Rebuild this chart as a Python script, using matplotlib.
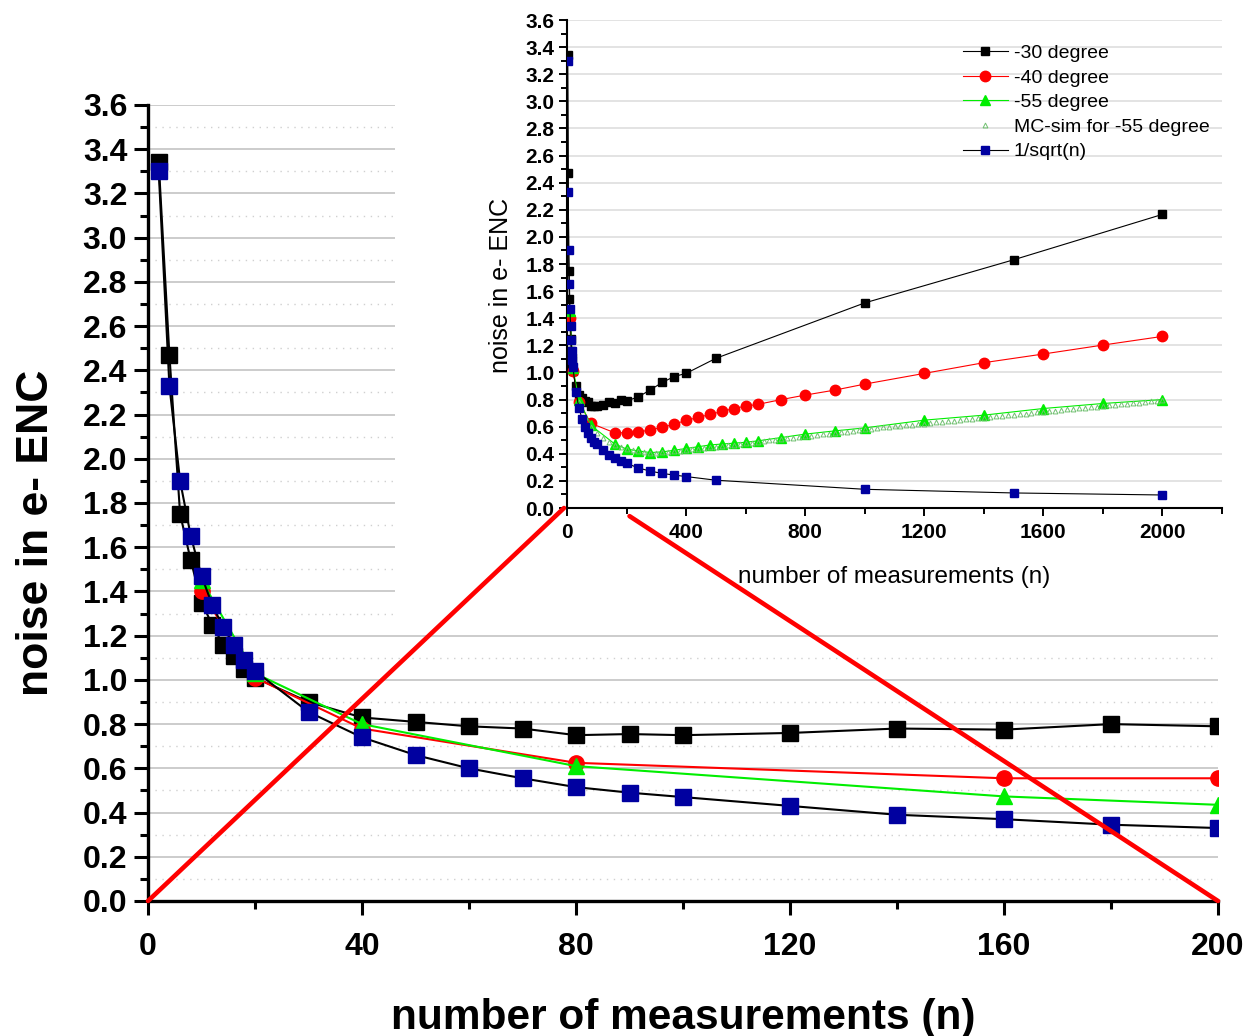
import numpy as np
import matplotlib
matplotlib.use('Agg')
import matplotlib.pyplot as plt
from matplotlib.patches import Rectangle, ConnectionPatch
from matplotlib.ticker import MultipleLocator, FormatStrFormatter

plt.rcParams['font.family'] = ['Liberation Sans', 'DejaVu Sans']

# -30 degree
x_30 = [2, 4, 6, 8, 10, 12, 14, 16, 18, 20, 30, 40, 50, 60, 70, 80, 90, 100, 120, 140, 160, 180, 200,
        240, 280, 320, 360, 400, 500, 1000, 1500, 2000]
y_30 = [3.34, 2.47, 1.75, 1.54, 1.35, 1.25, 1.16, 1.11, 1.05, 1.01, 0.90, 0.83, 0.81, 0.79, 0.78, 0.75, 0.755, 0.75,
        0.76, 0.78, 0.775, 0.80, 0.79, 0.82, 0.872, 0.926, 0.97, 0.993, 1.104, 1.513, 1.831, 2.166]

# -40 degree
x_40 = [10, 20, 40, 80, 160, 200, 240, 280, 320, 360, 400, 440, 480, 520, 560, 600, 640, 720, 800, 900,
        1000, 1200, 1400, 1600, 1800, 2000]
y_40 = [1.40, 1.01, 0.78, 0.625, 0.555, 0.555, 0.56, 0.577, 0.594, 0.619, 0.646, 0.668, 0.69, 0.712, 0.734, 0.752,
        0.764, 0.80, 0.833, 0.87, 0.914, 0.993, 1.072, 1.136, 1.202, 1.266]

# -55 degree
x_55 = [10, 20, 40, 80, 160, 200, 240, 280, 320, 360, 400, 440, 480, 520, 560, 600, 640, 720, 800, 900,
        1000, 1200, 1400, 1600, 1800, 2000]
y_55 = [1.45, 1.03, 0.80, 0.61, 0.473, 0.435, 0.421, 0.409, 0.414, 0.426, 0.439, 0.452, 0.465, 0.472, 0.478, 0.485,
        0.495, 0.52, 0.545, 0.569, 0.591, 0.648, 0.685, 0.734, 0.771, 0.80]

# MC-sim for -55 degree
x_mc = list(range(40, 2001, 20))
y_mc = [0.78, 0.67, 0.60, 0.555, 0.515, 0.488, 0.465, 0.448, 0.436, 0.426, 0.418, 0.413, 0.409, 0.408, 0.41,
        0.413, 0.418, 0.421,
        0.428, 0.432, 0.438, 0.442, 0.448, 0.453, 0.457, 0.463, 0.468, 0.473, 0.478, 0.483, 0.488, 0.493, 0.498,
        0.503, 0.509, 0.513, 0.519, 0.523, 0.529, 0.533, 0.539, 0.543, 0.549, 0.553, 0.559, 0.563, 0.569, 0.574,
        0.580, 0.585, 0.588, 0.594, 0.597, 0.602, 0.606, 0.611, 0.614, 0.620, 0.623, 0.628, 0.632, 0.636, 0.641,
        0.645, 0.649, 0.654, 0.658, 0.662, 0.667, 0.670, 0.676, 0.679, 0.684, 0.688, 0.692, 0.697, 0.700, 0.706,
        0.709, 0.714, 0.718, 0.722, 0.727, 0.730, 0.736, 0.739, 0.744, 0.748, 0.752, 0.757, 0.760, 0.766, 0.769,
        0.774, 0.778, 0.782, 0.787, 0.790, 0.795]

# 1/sqrt(n)
x_sq = [2, 4, 6, 8, 10, 12, 14, 16, 18, 20, 30, 40, 50, 60, 70, 80, 90, 100, 120, 140, 160, 180, 200,
        240, 280, 320, 360, 400, 500, 1000, 1500, 2000]
y_sq = [3.30, 2.33, 1.90, 1.65, 1.47, 1.34, 1.24, 1.16, 1.09, 1.04, 0.855, 0.74, 0.66, 0.60, 0.555, 0.515, 0.49,
        0.47, 0.43, 0.39, 0.37, 0.345, 0.33, 0.295, 0.272, 0.255, 0.243, 0.232, 0.205, 0.138, 0.111, 0.096]

BLUE = '#0000a0'
GREEN = '#00ee00'

fig = plt.figure(figsize=(12.51, 10.36), dpi=100)

# ---- main plot
ax = fig.add_axes([148/1251, 135/1036, 1070/1251, 796/1036])
ax.set_zorder(0)
ax.plot(x_30, y_30, '-', color='black', lw=1.5, marker='s', ms=11, mfc='black', mec='black', zorder=3)
ax.plot(x_40, y_40, '-', color='red', lw=1.5, marker='o', ms=11, mfc='red', mec='red', zorder=4)
ax.plot(x_55, y_55, '-', color=GREEN, lw=1.5, marker='^', ms=12, mfc=GREEN, mec=GREEN, zorder=5)
ax.plot(x_sq, y_sq, '-', color='black', lw=1.5, marker='s', ms=11, mfc=BLUE, mec=BLUE, zorder=6)
ax.set_xlim(0, 200)
ax.set_ylim(0, 3.6)
ax.xaxis.set_major_locator(MultipleLocator(40))
ax.xaxis.set_minor_locator(MultipleLocator(20))
ax.yaxis.set_major_locator(MultipleLocator(0.2))
ax.yaxis.set_minor_locator(MultipleLocator(0.1))
ax.yaxis.set_major_formatter(FormatStrFormatter('%.1f'))
ax.grid(True, which='major', axis='y', color='#c8c8c8', lw=1.3, ls='-')
ax.grid(True, which='minor', axis='y', color='#d0d0d0', lw=1.0, ls=(0, (1, 4)))
ax.set_axisbelow(True)
for s in ['top', 'right']:
    ax.spines[s].set_visible(False)
for s in ['left', 'bottom']:
    ax.spines[s].set_linewidth(2.4)
ax.tick_params(which='major', direction='out', length=10, width=2.2, labelsize=23, pad=5)
ax.tick_params(which='minor', direction='out', length=6, width=2.2)
ax.tick_params(axis='x', which='major', pad=12)
for lab in ax.get_xticklabels() + ax.get_yticklabels():
    lab.set_fontweight('bold')
ax.set_xlabel('number of measurements (n)', fontsize=30.5, fontweight='bold', labelpad=26)
ax.set_ylabel('noise in e- ENC', fontsize=32, fontweight='bold')
ax.yaxis.set_label_coords(-0.085, 0.462)

# white area behind the inset
fig.patches.append(Rectangle((395/1251, 411/1036), 1 - 395/1251, 1 - 411/1036, transform=fig.transFigure,
                             facecolor='white', edgecolor='none', zorder=1))

# ---- inset
ins = fig.add_axes([567/1251, 528/1036, 655/1251, 488/1036])
ins.set_zorder(2)
ins.patch.set_alpha(0)
l1, = ins.plot(x_30, y_30, '-', color='black', lw=0.8, marker='s', ms=6, mfc='black', mec='black', zorder=3)
l2, = ins.plot(x_40, y_40, '-', color='red', lw=0.8, marker='o', ms=7.5, mfc='red', mec='red', zorder=4)
l3, = ins.plot(x_55, y_55, '-', color=GREEN, lw=0.8, marker='^', ms=6.5, mfc=GREEN, mec=GREEN, zorder=5)
l4, = ins.plot(x_mc, y_mc, ls='none', marker='^', ms=3.5, mfc='none', mec='#70c070', mew=0.7, zorder=6)
l5, = ins.plot(x_sq, y_sq, '-', color='black', lw=0.8, marker='s', ms=6, mfc=BLUE, mec=BLUE, zorder=7)
ins.set_xlim(0, 2200)
ins.set_ylim(0, 3.6)
ins.xaxis.set_major_locator(MultipleLocator(400))
ins.xaxis.set_minor_locator(MultipleLocator(200))
ins.yaxis.set_major_locator(MultipleLocator(0.2))
ins.yaxis.set_minor_locator(MultipleLocator(0.1))
ins.yaxis.set_major_formatter(FormatStrFormatter('%.1f'))
ins.grid(True, which='major', axis='y', color='#e0e0e0', lw=1.3)
ins.set_axisbelow(True)
for s in ['top', 'right']:
    ins.spines[s].set_visible(False)
for s in ['left', 'bottom']:
    ins.spines[s].set_linewidth(1.5)
ins.tick_params(which='major', direction='out', length=6, width=1.4, labelsize=15, pad=3)
ins.tick_params(which='minor', direction='out', length=4, width=1.4)
ins.tick_params(axis='x', which='major', pad=5)
for lab in ins.get_xticklabels() + ins.get_yticklabels():
    lab.set_fontweight('bold')
ins.set_xlabel('number of measurements (n)', fontsize=17.5, labelpad=17)
ins.set_ylabel('noise in e- ENC', fontsize=18)
ins.yaxis.set_label_coords(-0.083, 0.457)
ins.legend([l1, l2, l3, l4, l5],
           ['-30 degree', '-40 degree', '-55 degree', 'MC-sim for -55 degree', '1/sqrt(n)'],
           loc='upper left', bbox_to_anchor=(0.6046, 0.95), frameon=False, fontsize=14,
           handlelength=2.3, handletextpad=0.3, labelspacing=0.36, borderpad=0, borderaxespad=0,
           numpoints=1)

# red zoom lines
for xa, xb, yb in [(0, -10, 0.0), (200, 210, -0.06)]:
    con = ConnectionPatch(xyA=(xa, 0), coordsA=ax.transData, xyB=(xb, yb), coordsB=ins.transData,
                          color='red', lw=3.3, zorder=10)
    fig.add_artist(con)

fig.savefig('out.png', dpi=100)
